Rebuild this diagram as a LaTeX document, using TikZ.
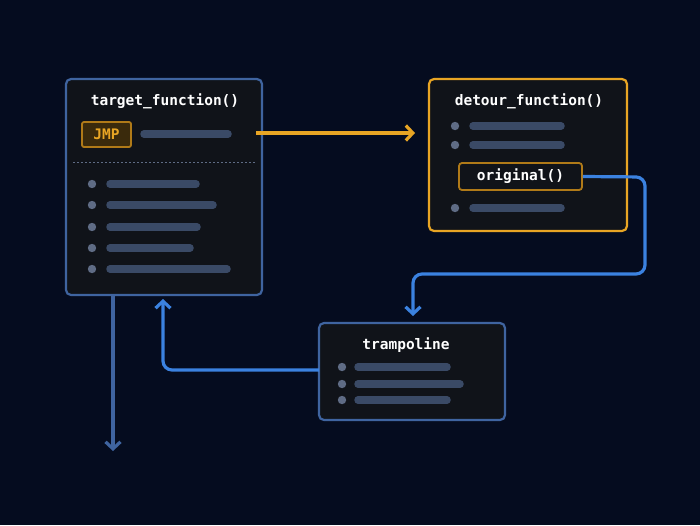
\documentclass[tikz,border=0pt]{standalone}
\usepackage{fontspec}
\setmonofont{DejaVu Sans Mono}
\usetikzlibrary{arrows.meta}
\definecolor{bg}{HTML}{050C1F}
\definecolor{boxfill}{HTML}{101319}
\definecolor{blueb}{HTML}{3F64A0}
\definecolor{orng}{HTML}{E8A524}
\definecolor{jmpb}{HTML}{B07A18}
\definecolor{barc}{HTML}{3A4A66}
\definecolor{dotc}{HTML}{5F6C85}
\definecolor{linkb}{HTML}{3B82E0}
\definecolor{jmpfill}{HTML}{3A2A0C}
\begin{document}
\begin{tikzpicture}[x=1pt,y=-1pt,
  card/.style={draw=blueb,line width=2.2pt,fill=boxfill,rounded corners=5pt},
  title/.style={text=white,font=\ttfamily\bfseries\fontsize{14.5}{16}\selectfont},
  bar/.style={draw=barc,line width=7.5pt,line cap=round},
  dot/.style={fill=dotc,draw=none},
  arr/.style={line width=3.2pt,-{Straight Barb[length=7pt,width=15pt]},rounded corners=9pt}]
\fill[bg] (0,0) rectangle (700,525);
% target
\draw[card] (66,79) rectangle (262,295);
\node[title] (tt) at (165,101) {target\_function()};
\node[draw=jmpb,line width=1.8pt,fill=jmpfill,rounded corners=2pt,minimum width=49pt,minimum height=25pt,text=orng,font=\ttfamily\bfseries\fontsize{14.5}{16}\selectfont] (jmp) at (106.5,134.5) {JMP};
\draw[bar] (144,134) -- (228,134);
\draw[dotc,line width=0.8pt,dash pattern=on 2pt off 2pt] (73,162) -- (255,162);
\foreach \y/\e in {184/196,205/213,227/197,248/190,269/227}{
  \fill[dot] (92,\y) circle (4.2pt);
  \draw[bar] (110,\y) -- (\e,\y);}
% detour
\draw[card,draw=orng] (429,79) rectangle (627,231);
\node[title] (dt) at (529,101) {detour\_function()};
\foreach \y in {126,145,208}{
  \fill[dot] (455,\y) circle (4.2pt);
  \draw[bar] (473,\y) -- (561,\y);}
\node[draw=jmpb,line width=1.8pt,fill=boxfill,rounded corners=3pt,minimum width=123pt,minimum height=27pt,title] (orig) at (520.5,176.5) {original()};
% trampoline
\draw[card] (319,323) rectangle (505,420);
\node[title] (tr) at (406,345) {trampoline};
\foreach \y/\e in {367/447,384/460,400/447}{
  \fill[dot] (342,\y) circle (4.2pt);
  \draw[bar] (358,\y) -- (\e,\y);}
\coordinate (trw) at (319,370);
\coordinate (tin) at (163,299);
\coordinate (jin) at (415,133);
\coordinate (jout) at (256,133);
\coordinate (tpin) at (413,316);
\coordinate (tout) at (113,296);
\coordinate (tend) at (113,451);
% connectors
\draw[arr,orng] (jout) -- (jin);
\draw[arr,linkb] (orig.east) -- (645,177) -- (645,274) -- (413,274) -- (tpin);
\draw[arr,linkb] (trw) -- (163,370) -- (tin);
\draw[arr,blueb] (tout) -- (tend);
\end{tikzpicture}
\end{document}
